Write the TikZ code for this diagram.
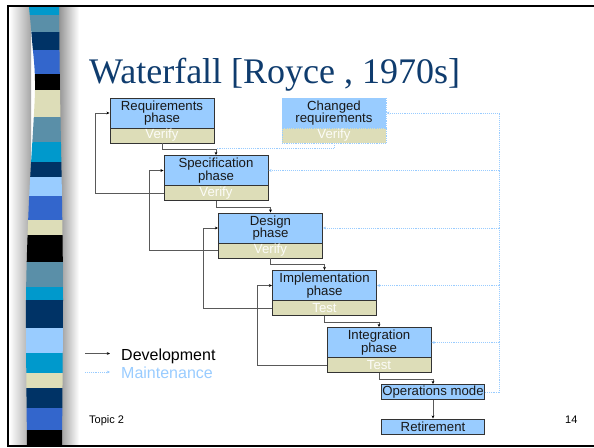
\documentclass[tikz,border=0pt]{standalone}
\usepackage{fontspec}
\setmainfont{Liberation Sans}
\newfontfamily\titlefont{Liberation Serif}
\usetikzlibrary{calc,arrows.meta}
\definecolor{boxblue}{HTML}{99CCFF}
\definecolor{bandtan}{HTML}{DDDDB8}
\definecolor{titleblue}{HTML}{0F3C6E}
\definecolor{stcyan}{HTML}{0099CC}
\definecolor{ststeel}{HTML}{5A8FA8}
\definecolor{stnavy}{HTML}{003366}
\definecolor{stroyal}{HTML}{3366CC}
\definecolor{stlight}{HTML}{99CCFF}
\definecolor{stbeige}{HTML}{DDDDB8}
\tikzset{
 boxfont/.style={font=\fontsize{13.2}{12.8}\selectfont},
 phasebox/.style={boxfont, draw=black!80, line width=0.9pt, fill=boxblue, minimum width=104pt, minimum height=30pt, inner sep=0pt, align=center, text=black!90},
 bandbox/.style={boxfont, draw=black!80, line width=0.9pt, fill=bandtan, minimum width=104pt, minimum height=15pt, inner sep=0pt, text=white!90!bandtan},
 chgbox/.style={boxfont, draw=boxblue, densely dotted, line width=0.8pt, fill=boxblue, minimum width=104pt, minimum height=30pt, inner sep=0pt, align=center, text=black!90},
 chgband/.style={boxfont, draw=boxblue, densely dotted, line width=0.8pt, fill=bandtan, minimum width=104pt, minimum height=15pt, inner sep=0pt, text=white!90!bandtan},
 smallbox/.style={boxfont, draw=black!80, line width=0.9pt, fill=boxblue, minimum width=103pt, minimum height=15pt, inner sep=0pt, text=black!90},
 dev/.style={draw=black!65, line width=0.9pt, -{Stealth[length=3.2pt,width=2.8pt,black]}},
 maint/.style={draw=boxblue, line width=0.9pt, densely dotted, -{Stealth[length=3.2pt,width=2.8pt]}},
 maintl/.style={draw=boxblue, line width=0.9pt, densely dotted},
 legend/.style={font=\fontsize{16}{18}\selectfont, anchor=base west, inner sep=0pt},
 small/.style={font=\fontsize{11}{13}\selectfont, anchor=base west, inner sep=0pt},
}
\begin{document}
\begin{tikzpicture}[x=1pt,y=-1pt]
\useasboundingbox (0,0) rectangle (594,447);
\fill[white] (0,0) rectangle (594,447);
% side shading
\shade[left color=white, right color=black!35] (9.5,7) rectangle (31,445);
\shade[left color=black!42, right color=white] (59,7) rectangle (79,445);
% stripes
\begin{scope}
\clip plot[smooth] coordinates {(29,7) (32,40) (35,90) (29,200) (26,300) (27,445)}
 -- plot[smooth] coordinates {(62,445) (63,300) (62,200) (60,90) (59,7)} -- cycle;
\foreach \a/\b/\c in {7/15/stcyan, 15/32/ststeel, 32/50/stnavy, 50/74/stroyal, 74/90/black,
  90/117/stbeige, 117/142/ststeel, 142/162/stcyan, 162/177/stnavy, 177/196/stlight,
  196/220/stroyal, 220/235/stbeige, 235/262/black, 262/287/ststeel, 287/300/stcyan,
  300/328/stnavy, 328/353/stlight, 353/373/stcyan, 373/388/stbeige, 388/408/stnavy,
  408/430/stroyal, 430/446/black}
  \fill[\c] (20,\a) rectangle (70,\b);
\end{scope}
% frame
\draw[line width=2.5pt] (7,6) -- (594,6);
\draw[line width=2pt] (8,5) -- (8,446);
\draw[line width=2pt] (7,445.5) -- (594,445.5);
% title
\node[anchor=base west, inner sep=0pt, text=titleblue, font=\titlefont\fontsize{36}{40}\selectfont] (title) at (89,83) {Waterfall [Royce , 1970s]};
% phases
\node[phasebox] (req) at (162,113) {Requirements\\phase};
\node[bandbox] (reqv) at (162,135.5) {Verify};
\node[chgbox] (chg) at (334,113) {Changed\\requirements};
\node[chgband] (chgv) at (334,135.5) {Verify};
\node[phasebox] (spec) at (216,170.5) {Specification\\phase};
\node[bandbox] (specv) at (216,193) {Verify};
\node[phasebox] (des) at (270.5,228) {Design\\phase};
\node[bandbox] (desv) at (270.5,250.5) {Verify};
\node[phasebox] (imp) at (324.5,285.5) {Implementation\\phase};
\node[bandbox] (impv) at (324.5,308) {Test};
\node[phasebox] (int) at (379,342.5) {Integration\\phase};
\node[bandbox] (intv) at (379,365) {Test};
\node[smallbox] (ops) at (433,392) {Operations mode};
\node[smallbox] (ret) at (433,426.5) {Retirement};
% development flow
\draw[dev] (reqv.south) -- ++(0,6) -| (spec.north);
\draw[dev] (specv.south) -- ++(0,6) -| (des.north);
\draw[dev] (desv.south) -- ++(0,6) -| (imp.north);
\draw[dev] (impv.south) -- ++(0,6) -| (int.north);
\draw[dev] (intv.south) -- ++(0,6) -| (ops.north);
\draw[dev] (ops.south) -- (ret.north);
% feedback loops
\draw[dev] (specv.west) -| ($(req.west)+(-14.5,0)$) -- (req.west);
\draw[dev] (desv.west) -| ($(spec.west)+(-14.5,0)$) -- (spec.west);
\draw[dev] (impv.west) -| ($(des.west)+(-14.5,0)$) -- (des.west);
\draw[dev] (intv.west) -| ($(imp.west)+(-14.5,0)$) -- (imp.west);
% maintenance
\coordinate (mtop) at (499,113);
\draw[maint] (ops.east) -| (mtop) -- (chg.east);
\draw[maint] (mtop |- spec.east) -- (spec.east);
\draw[maint] (mtop |- des.east) -- (des.east);
\draw[maint] (mtop |- imp.east) -- (imp.east);
\draw[maint] (mtop |- int.east) -- (int.east);
\draw[maintl] (chgv.south) |- ($(spec.north)+(0,-6.5)$);
% legend
\node[legend] (ldev) at (121,360) {Development};
\node[legend, text=boxblue] (lmaint) at (121,378) {Maintenance};
\coordinate (ldevs) at (85,353.5);
\coordinate (lmaints) at (85,372);
\draw[dev] (ldevs) -- ++(25,0);
\draw[maint] (lmaints) -- ++(25,0);
% footer
\node[small] (topic) at (89,423) {Topic 2};
\node[small] (pnum) at (565,423) {14};
\end{tikzpicture}
\end{document}
